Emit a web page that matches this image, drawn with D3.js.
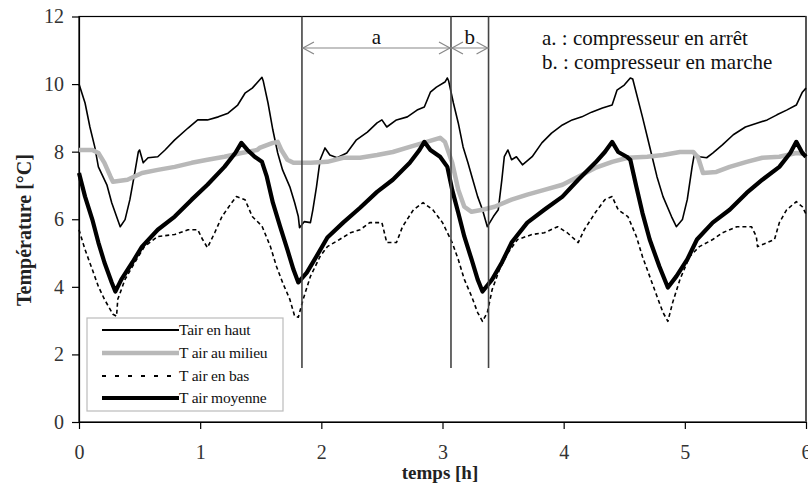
<!DOCTYPE html>
<html><head><meta charset="utf-8">
<script src="https://cdn.jsdelivr.net/npm/d3@7"></script>
<style>
html,body{margin:0;padding:0;background:#fff;}
svg{display:block;}
text{font-family:"Liberation Serif","Times New Roman",serif;}
</style></head>
<body>
<svg id="chart" width="808" height="484"></svg>
<script>
// ---- data ----
const xTicks = [0,1,2,3,4,5,6];
const yTicks = [0,2,4,6,8,10,12];
const seriesNames = ["Tair en haut","T air au milieu","T air en bas","T air moyenne"];
const markerTimes = [1.84, 3.07, 3.38];
const noteLines = ["a. : compresseur en arrêt","b. : compresseur en marche"];

const tHaut = [[0,10.0],[0.05,9.44],[0.09,8.73],[0.13,8.14],[0.16,7.55],[0.23,7.02],[0.27,6.49],[0.31,6.08],[0.34,5.78],[0.38,5.99],[0.42,6.58],[0.46,7.37],[0.49,8.0],[0.50,8.05],[0.53,7.67],[0.57,7.82],[0.65,7.85],[0.71,8.05],[0.79,8.35],[0.90,8.70],[0.98,8.94],[1.06,8.94],[1.15,9.03],[1.23,9.14],[1.31,9.38],[1.37,9.73],[1.43,9.88],[1.49,10.12],[1.51,10.2],[1.52,10.1],[1.56,9.44],[1.60,8.64],[1.64,7.96],[1.68,7.46],[1.74,6.96],[1.78,6.49],[1.81,6.08],[1.82,5.75],[1.86,5.93],[1.91,5.9],[1.93,6.28],[1.96,6.96],[1.99,7.76],[2.03,8.11],[2.07,7.9],[2.13,7.82],[2.21,7.96],[2.29,8.35],[2.38,8.58],[2.46,8.85],[2.50,8.94],[2.54,8.73],[2.62,8.94],[2.71,9.03],[2.79,9.23],[2.85,9.32],[2.90,9.76],[2.95,9.91],[3.02,10.06],[3.04,10.18],[3.05,10.1],[3.09,9.44],[3.13,8.85],[3.17,8.14],[3.21,7.67],[3.25,7.17],[3.29,6.67],[3.33,6.28],[3.37,5.78],[3.42,6.08],[3.46,6.28],[3.49,7.17],[3.51,7.85],[3.54,8.05],[3.57,7.76],[3.61,7.85],[3.66,7.61],[3.74,7.85],[3.82,8.26],[3.90,8.55],[3.99,8.79],[4.07,8.94],[4.15,9.03],[4.23,9.17],[4.32,9.29],[4.40,9.38],[4.44,9.82],[4.50,9.97],[4.55,10.18],[4.57,10.15],[4.65,9.03],[4.69,8.44],[4.73,7.85],[4.77,7.26],[4.82,6.67],[4.89,6.08],[4.93,5.78],[4.98,5.99],[5.02,6.58],[5.06,7.55],[5.08,7.96],[5.12,7.85],[5.18,7.82],[5.23,7.96],[5.31,8.2],[5.40,8.5],[5.50,8.73],[5.60,8.85],[5.68,8.94],[5.76,9.09],[5.84,9.23],[5.92,9.38],[5.97,9.76],[6.0,9.88]];

const tMilieu = [[0,8.05],[0.11,8.05],[0.16,7.96],[0.21,7.67],[0.26,7.26],[0.28,7.11],[0.40,7.17],[0.52,7.37],[0.65,7.46],[0.79,7.55],[0.93,7.67],[1.06,7.76],[1.20,7.85],[1.34,7.96],[1.47,8.05],[1.49,8.11],[1.60,8.26],[1.64,8.29],[1.67,8.05],[1.72,7.76],[1.77,7.67],[1.91,7.67],[2.05,7.7],[2.18,7.82],[2.32,7.82],[2.46,7.9],[2.59,7.99],[2.73,8.14],[2.87,8.29],[2.98,8.41],[3.02,8.29],[3.08,7.67],[3.13,6.87],[3.18,6.37],[3.24,6.22],[3.33,6.28],[3.43,6.37],[3.57,6.58],[3.70,6.73],[3.84,6.87],[3.99,7.02],[4.12,7.26],[4.26,7.52],[4.40,7.7],[4.53,7.82],[4.69,7.85],[4.82,7.9],[4.96,7.99],[5.07,7.99],[5.11,7.82],[5.15,7.37],[5.26,7.4],[5.37,7.55],[5.51,7.7],[5.64,7.82],[5.78,7.85],[5.92,7.96],[6.0,7.93]];

const tBas = [[0,5.69],[0.05,5.1],[0.11,4.51],[0.16,4.01],[0.21,3.63],[0.28,3.19],[0.31,3.13],[0.32,3.63],[0.38,4.22],[0.46,4.72],[0.54,5.19],[0.65,5.49],[0.79,5.55],[0.90,5.69],[0.98,5.69],[1.02,5.4],[1.06,5.16],[1.12,5.6],[1.18,6.08],[1.26,6.49],[1.30,6.67],[1.37,6.58],[1.43,6.08],[1.51,5.8],[1.58,5.19],[1.63,4.6],[1.68,4.13],[1.74,3.63],[1.78,3.13],[1.81,3.1],[1.85,3.63],[1.91,4.31],[1.99,4.9],[2.05,5.19],[2.15,5.4],[2.24,5.6],[2.32,5.69],[2.40,5.9],[2.50,5.9],[2.54,5.31],[2.62,5.31],[2.67,5.78],[2.76,6.28],[2.84,6.49],[2.92,6.28],[3.00,5.9],[3.08,5.31],[3.13,4.81],[3.18,4.22],[3.24,3.72],[3.29,3.24],[3.33,2.98],[3.37,3.24],[3.41,3.92],[3.47,4.51],[3.54,5.01],[3.62,5.4],[3.74,5.55],[3.84,5.6],[3.95,5.78],[4.03,5.6],[4.12,5.31],[4.17,5.69],[4.26,6.19],[4.34,6.58],[4.40,6.67],[4.45,6.28],[4.53,6.08],[4.60,5.49],[4.65,4.9],[4.71,4.31],[4.77,3.72],[4.82,3.24],[4.86,2.98],[4.90,3.54],[4.96,4.22],[5.04,4.9],[5.12,5.19],[5.23,5.4],[5.31,5.6],[5.43,5.78],[5.55,5.78],[5.59,5.49],[5.60,5.19],[5.68,5.31],[5.74,5.4],[5.78,5.9],[5.84,6.28],[5.92,6.52],[5.97,6.37],[6.0,6.15]];

const tMoyenne = [[0,7.37],[0.05,6.67],[0.11,5.99],[0.16,5.31],[0.21,4.72],[0.27,4.13],[0.30,3.86],[0.35,4.22],[0.44,4.72],[0.52,5.19],[0.65,5.69],[0.79,6.08],[0.93,6.58],[1.06,7.02],[1.20,7.55],[1.29,7.96],[1.34,8.26],[1.39,8.05],[1.45,7.85],[1.51,7.7],[1.55,7.26],[1.60,6.49],[1.66,5.78],[1.72,5.1],[1.77,4.51],[1.81,4.13],[1.88,4.42],[1.96,4.9],[2.05,5.46],[2.18,5.9],[2.32,6.34],[2.46,6.81],[2.59,7.17],[2.73,7.67],[2.81,8.05],[2.85,8.29],[2.90,8.05],[2.98,7.85],[3.04,7.55],[3.08,6.87],[3.13,6.19],[3.18,5.49],[3.24,4.81],[3.29,4.22],[3.33,3.86],[3.41,4.22],[3.49,4.72],[3.57,5.31],[3.70,5.9],[3.84,6.28],[3.99,6.67],[4.12,7.17],[4.26,7.67],[4.34,7.99],[4.40,8.29],[4.45,7.99],[4.52,7.85],[4.55,7.76],[4.60,6.96],[4.65,6.19],[4.71,5.4],[4.79,4.6],[4.86,3.98],[4.93,4.31],[5.02,4.81],[5.10,5.4],[5.23,5.9],[5.37,6.28],[5.51,6.78],[5.64,7.17],[5.78,7.55],[5.87,7.96],[5.92,8.29],[5.97,7.96],[6.0,7.85]];

// ---- chart ----
const svg = d3.select("#chart");
const x = d3.scaleLinear().domain([0,6]).range([79,806]);
const y = d3.scaleLinear().domain([0,12]).range([422,16.5]);

// frame
svg.append("rect").attr("x",x(0)).attr("y",y(12)).attr("width",x(6)-x(0)).attr("height",y(0)-y(12))
  .attr("fill","none").attr("stroke","#000").attr("stroke-width",1.2);
svg.append("line").attr("x1",x(6)).attr("x2",x(6)).attr("y1",y(12)).attr("y2",y(0))
  .attr("stroke","#555").attr("stroke-width",2);

// axes
const ax = svg.append("g").attr("transform",`translate(0,${y(0)})`)
  .call(d3.axisBottom(x).tickValues(xTicks).tickSize(7).tickPadding(16).tickSizeOuter(0).tickFormat(d3.format("d")));
const ay = svg.append("g").attr("transform",`translate(${x(0)},0)`)
  .call(d3.axisLeft(y).tickValues(yTicks).tickSize(7).tickPadding(8).tickSizeOuter(0).tickFormat(d3.format("d")));
[ax,ay].forEach(g=>{
  g.select(".domain").attr("stroke","#000").attr("stroke-width",1.2);
  g.selectAll(".tick line").attr("stroke","#000").attr("stroke-width",1.2);
  g.selectAll(".tick text").attr("font-family","Liberation Serif, serif").attr("font-size",20).attr("fill","#333");
});

// axis titles
svg.append("text").attr("transform","translate(24,230) rotate(-90)").attr("text-anchor","middle")
  .attr("dominant-baseline","central").attr("font-size",20).attr("font-weight","bold").attr("fill","#222")
  .text("Température [°C]");
svg.append("text").attr("x",440).attr("y",472).attr("text-anchor","middle").attr("dominant-baseline","central")
  .attr("font-size",19).attr("font-weight","bold").attr("fill","#222").text("temps [h]");

// series
const line = d3.line().x(d=>x(d[0])).y(d=>y(d[1]));
const styles = [
  {data:tHaut, stroke:"#000", w:1.6, dash:null},
  {data:tMilieu, stroke:"#b8b8b8", w:4.5, dash:null},
  {data:tBas, stroke:"#000", w:1.6, dash:"4,3"},
  {data:tMoyenne, stroke:"#000", w:4.2, dash:null}
];
styles.forEach(s=>{
  svg.append("path").datum(s.data).attr("d",line).attr("fill","none")
    .attr("stroke",s.stroke).attr("stroke-width",s.w).attr("stroke-linejoin","round")
    .attr("stroke-dasharray",s.dash);
});

// vertical markers
markerTimes.forEach(t=>{
  svg.append("line").attr("x1",x(t)).attr("x2",x(t)).attr("y1",y(12)).attr("y2",y(1.6))
    .attr("stroke","#444").attr("stroke-width",1.6);
});

// arrows
function arrow(t0,t1,label){
  const x0=x(t0), x1=x(t1), yy=48;
  const g=svg.append("g").attr("stroke","#888").attr("stroke-width",1.2).attr("fill","none");
  g.append("line").attr("x1",x0).attr("x2",x1).attr("y1",yy).attr("y2",yy);
  g.append("path").attr("d",`M${x0+12},${yy-6}L${x0+1},${yy}L${x0+12},${yy+6}`);
  g.append("path").attr("d",`M${x1-12},${yy-6}L${x1-1},${yy}L${x1-12},${yy+6}`);
  svg.append("text").attr("x",(x0+x1)/2).attr("y",44).attr("text-anchor","middle")
    .attr("font-size",21).attr("fill","#111").text(label);
}
arrow(markerTimes[0],markerTimes[1],"a");
arrow(markerTimes[1],markerTimes[2],"b");

// notes
noteLines.forEach((s,i)=>{
  svg.append("text").attr("x",542).attr("y",45+i*24).attr("font-size",21).attr("fill","#111").text(s);
});

// legend
const lg = svg.append("g");
lg.append("rect").attr("x",87).attr("y",318).attr("width",196).attr("height",93)
  .attr("fill","#fff").attr("stroke","#bbb").attr("stroke-width",1.2);
const rowsY=[330,353,376,398];
styles.forEach((s,i)=>{
  lg.append("line").attr("x1",102).attr("x2",179).attr("y1",rowsY[i]).attr("y2",rowsY[i])
    .attr("stroke",s.stroke).attr("stroke-width",s.w===1.6?2:s.w).attr("stroke-dasharray",s.dash?"4,9":null);
  lg.append("text").attr("x",179).attr("y",rowsY[i]+5).attr("font-size",15.5).attr("fill","#111")
    .attr("letter-spacing","-0.2").text(seriesNames[i]);
});
</script>
</body></html>
